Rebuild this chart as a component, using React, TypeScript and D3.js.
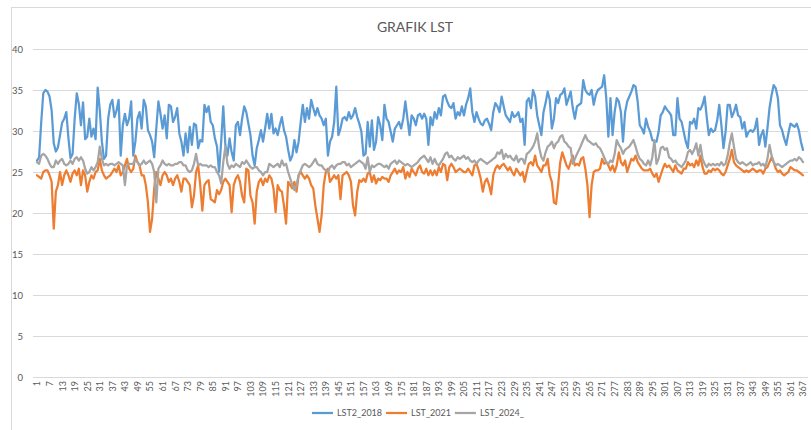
import React, { useEffect, useRef } from 'react';
import * as d3 from 'd3';

// day index 1..367 and the labels shown on the x axis (every 6th day)
const categories = d3.range(1, 368);
const tickLabels = categories.filter((d) => (d - 1) % 6 === 0);
const yTicks = [0, 5, 10, 15, 20, 25, 30, 35, 40];
const seriesNames = ['LST2_2018', 'LST_2021', 'LST_2024_'];
const seriesColors = ['#5B9BD5', '#ED7D31', '#A5A5A5'];

const lst2018 = [
  26.4, 26.8, 31, 34.6, 35, 34.8, 34.2, 32.5, 28.5, 27.5,
  28, 29.5, 31, 31.5, 32.3, 29.2, 26.7, 27.2, 31.5, 34.6,
  33.3, 30.7, 33.5, 29, 29.3, 31.5, 29.3, 30.3, 29, 35.3,
  32.5, 28.7, 26.6, 27, 31.5, 33.2, 33.8, 31.7, 32.5, 33.8,
  27, 30.7, 32.1, 30.7, 31.5, 33.6, 27, 28.7, 31.5, 32.3,
  30.3, 33.8, 33, 30.1, 29.5, 28.7, 26.8, 30.3, 33.6, 32.1,
  30.3, 31.9, 29.1, 33.2, 33, 31.1, 31.7, 32.8, 29.7, 28.7,
  27,
  29.7, 27.4, 30.5, 28.3, 30.9, 30.7, 27.9, 28.9, 28.7, 33.2,
  32.3, 33, 31.1, 30.7, 29.1, 28.1, 25, 28.7, 33, 28.3,
  27, 29.1, 27.4, 26.4, 30.7, 31.1, 29.5, 31.5, 33, 32.3,
  30.9, 29.5, 27, 25.8, 27.9, 28.9, 30.1, 28.7, 30.3, 32.1,
  30.3, 32.1, 29.7, 30.3, 29.5, 30.7, 31.7, 30.1, 29.3, 27.7,
  26.4, 27, 28.9, 27.4, 28.7, 31.1, 33.2, 31.1, 32.8, 31.5,
  33.8, 32.8, 31.9, 32.8, 31.9, 31.5, 30.7, 31.5, 27, 28.7,
  29.3, 31.1, 35.4, 29.5, 30.3, 31.5,
  31.7, 31.3, 32.3, 31.5, 31.9, 32.8, 31.7, 30.9, 29.9, 27,
  27.2, 31.1, 28.1, 31.3, 27.7, 28.7, 31.7, 30.7, 28.9,
  33.2, 31.5, 31.1, 29.9, 28.7, 30.3, 30.7, 31.1, 30.3,
  31.5, 33.6, 31.5, 29.5, 31.9, 31.5, 30.7, 31.9, 32.1,
  31.5, 32.1, 31.5, 28.3, 31.7, 30.7, 32.3, 31.5, 32.8,
  31.9, 34.2, 34.4, 33.6, 33, 32.8, 33.4, 31.5, 32.3, 31.9,
  33, 31.9, 33.2, 34, 35.2, 32.3, 31.1, 32.3, 31.5, 30.9,
  30.7, 31.3, 31.5, 30.9, 30.1, 32.3, 33.4, 33, 32.3,
  34.2, 33, 31.9, 31.5, 31.1, 32.3, 31.7, 31.9, 32.3,
  31.1, 31.5, 28.3, 33.6, 34, 32.8, 35, 34.2, 31.9,
  30.7, 29.5, 32.3, 33.4, 34.8, 33.8, 30.3, 31.5, 34, 33.4,
  34.4, 34.6, 35.2, 33.2, 34, 34.8, 32.8, 31.5, 33, 33.2,
  33.4, 36.2, 35, 34.6, 34.4, 35, 33.2, 34.4, 35, 35.2,
  35.4, 36.8, 34, 29.3, 34, 29.5, 32.3, 34, 33.6,
  32.3, 28.7, 32.3, 33.6, 34.2, 34.8, 35.6, 35.4, 33.6,
  30.7, 30.3, 29.7, 31.5, 30.5, 29.9, 28.9, 28.7,
  28.7, 29.9, 31.9, 32.3, 33, 32.6, 32.3, 31.9, 29.5,
  29.5, 34, 31.5, 31.1, 29.9, 28.7, 27.9, 31.1, 30.9, 31.5,
  30.3, 32.8, 32.6, 33.2, 34.2, 31.7, 29.5, 30.3, 29.9,
  30.1, 31.3, 33.2, 30.7, 27.9, 29.9, 33.2, 33.2, 31.7, 32.3,
  33.2, 31.9, 31.7, 30.3, 31.1, 29.3, 29.9, 30.1, 29.9,
  30.3, 31.5, 28.3, 29.5, 30.1, 28.1, 30.3, 32.8, 34.4, 35.6,
  35.2, 34, 30.7, 30.1, 29.1, 28.3, 29.7, 30.9, 30.7,
  30.5, 30.9, 30.1, 28.7, 27.7,
];

const lst2021 = [
  24.6, 24.4, 24.2, 25, 25.2, 25.2, 24.6, 23.8, 18.1, 22.6,
  23.4, 25, 23.4, 24.6, 25.2, 24.6, 23.8, 24.8, 25.2,
  24.6, 25.4, 23.4, 25.2, 24.6, 22.6, 23.8, 24.6, 24.2, 25,
  25.2, 26.6, 25.2, 24.6, 24.2, 24.4, 24.6, 25, 25.4,
  25, 25.8, 24.6, 25, 25.8, 26.6, 25.4, 25, 25.4, 27,
  26.2, 25.8, 24.6, 24.6, 23.4, 21.3, 17.7, 19.3, 23, 25,
  24.2, 23.4, 24.6, 25, 24.6, 23.8, 24.2, 23.4, 24.2, 24.6,
  23.8, 22.6, 24.2,
  24.2, 23.8, 23.4, 20.7, 22.1, 25, 25.8, 23.4, 20.3, 23.4,
  23.8, 24, 21.7, 21.5, 21.3, 22.8, 22.3, 22.8, 23.8,
  24.2, 23.8, 23.4, 20.1, 23.4, 24.2, 24.6, 23.8, 22.1,
  21.3, 25.4, 25.2, 22.1, 21.3, 18.7, 22.6, 23.8, 24.2, 23.4,
  24.2, 23.8, 24.6, 24.2, 23, 20.1, 23.4, 22.8, 22.6,
  20.9, 18.7, 23.8, 23.4, 23, 23.8, 22.6, 24.6, 25,
  24.6, 24.2, 24.6, 24.2, 23.4, 23, 20.9, 19.3, 17.7, 19.7,
  23.4, 25, 25.4, 23.8, 24.2, 24.6, 24.2, 24.6, 21.7, 24.6,
  24.8, 25, 24.6, 23.8, 20.9, 19.7, 22.6, 24, 23.8, 24.2,
  23.8, 24.8, 25, 23.8, 24.6, 23.6, 24.2, 24, 24.4,
  24.2, 24.2, 23.8, 24.6, 25, 25.4, 24.8, 25.2, 25,
  25.6, 24.2, 25, 24.4, 25.4, 25, 24.6, 25.4, 25.8,
  25, 24.8, 25.4, 24.6, 25.2, 24.6, 25.2, 24.6, 25.6,
  25, 26, 25.8, 24, 25.6, 26, 25.6, 25, 25.2, 25.4,
  25.2, 25, 25, 25.4, 25, 24.6, 25.8, 26, 25.2, 24.2,
  22.6, 23.8, 24.2, 23.4, 22.3, 24.6, 25.4, 25.8, 25.4,
  25.8, 26, 25.6, 25.2, 25.6, 25, 24.6, 25.4, 25,
  24.6, 25, 23.8, 25, 26, 26.2, 25.8, 27, 25.8,
  25.4, 25, 25.8, 25.8, 26.6, 24.6, 23.8, 21.3, 21.1, 23.4,
  26.2, 27.4, 26.6, 25.8, 25.4, 26.2, 27, 25.8, 26,
  25.8, 26.6, 26.8, 25.4, 23.4, 19.5, 23.4, 25, 25.2, 25.2,
  25.4, 26.6, 26, 26.2, 25.8, 25.2, 25.8, 25, 25.8, 27.4,
  26.2, 25.8, 26.4, 25, 25.8, 26.6, 26.4, 27, 26.2, 25.8,
  25.4, 25.2, 25.2, 25.2, 25.4, 24.8, 24.4,
  24.8, 23.8, 24.6, 25.4, 26, 25.6, 25.8, 25.4, 25,
  25.8, 25.2, 25, 24.8, 25.4, 25.4, 26.2, 25.8, 26,
  25.6, 26.4, 25.8, 27, 25.6, 24.8, 24.8, 25.2, 25, 25.4,
  25.2, 25.4, 25.2, 24.8, 24.6, 25, 25.8, 26.6, 27.7, 26.2,
  25.8, 25.6, 25.4, 25.2, 25, 25.2, 25, 25.2, 25.4,
  25.2, 25, 25.2, 25.2, 24.8, 25.4, 25.6, 26.2, 26.8,
  26.2, 25.4, 25, 25.2, 24.8, 24.6, 24.8, 25, 25.6, 25.4,
  25.2, 25.2, 25, 24.8, 24.6,
];

const lst2024 = [
  26.2, 26, 27, 27.2, 27, 26.6, 26, 25.6, 25.6,
  26.4, 26, 26.4, 26.6, 26, 25.8, 26, 26.4, 26, 26.6,
  26.8, 26.4, 26.8, 26.4, 25.4, 24.8, 25, 25.6, 25.2, 25.6,
  26.2, 28.1, 26.6, 25.8, 26, 25.8, 26, 26, 25.8,
  26, 26.2, 26, 25.8, 23.4, 25.8, 26, 26, 26, 26.6,
  26.2, 25.8, 26, 26.4, 26, 26.2, 26.4, 26, 25,
  21.3, 25.4, 25.8, 26.4, 26, 25.8, 26, 25.8, 25.8, 26,
  26, 26.2, 26.2, 25.8,
  25.8, 25.2, 25, 25.2, 26, 27.2, 25.8, 26, 25.8, 25.8,
  25.8, 25.6, 25.8, 25.6, 25.6, 25, 24.6, 23.6, 26.2,
  28.1, 26, 25.4, 25.8, 25.6, 26, 25.8, 25.6, 26.2,
  26, 26.4, 26, 25.6, 25.4, 25.6, 25.6, 25.2, 25, 24.6,
  25, 25, 26, 25.8, 25.6, 25.8, 26, 25.6, 26.4,
  25.8, 26, 25, 24.2, 23.4, 22.8, 23.4, 24.6, 25.2, 25.8,
  26, 25.8, 25.6, 25.8, 26.2, 26.6, 26, 25.8, 25.8,
  25.4, 25.2, 25, 25.6, 25.8, 25.4, 25.8, 26, 26, 26.2,
  26.2, 25.8, 26, 25.6, 25.8, 26, 26.2, 26.4, 26.2, 26,
  25.4, 26.8, 25, 25.8, 25.6, 25.8, 26, 26, 25.8,
  25.6, 25.8, 25.4, 26, 26.2, 26.4, 26, 26.4, 26.2,
  26, 25.8, 26, 25.8, 25.6, 25.8, 26, 26.2, 26.6,
  26.8, 27, 26.6, 26.2, 26.8, 26, 26.6, 26, 25.8, 26.2,
  26.6, 27.2, 27.4, 26.8, 27, 26.6, 26.4, 26.8, 26.6,
  26.8, 27, 26.6, 26.8, 26.4, 26.2, 26.4, 26, 26.4, 26.6,
  26.4, 26.2, 26, 26.2, 26.4, 26.6, 26.8, 27.4, 27.2,
  27.7, 26.6, 27.2, 26.8, 27, 26.6, 26.4, 27, 26.2,
  26.6, 26.6, 26, 27.2, 27.4, 27.7, 28.1, 28.7, 29.7, 27.9,
  26.8, 26.4, 27.4, 28.1, 28.3, 28.7, 27.9, 28.5, 28.7,
  29.3, 29.5, 28.7, 28.5, 28.1, 27.9, 26, 26.6, 27.2, 27.7,
  28.3, 28.9, 29.5, 28.9, 28.7, 28.5, 28.3, 28.5, 28.1,
  27.9, 27.4, 26.8, 26.2, 26, 26.4, 26.2, 27.2, 28.9, 28.3,
  27.9, 27.2, 27.7, 27.9, 28.1, 28.5, 28.9, 28.1, 27.2,
  26.6, 26.4, 26, 25.8, 26.4, 25.8, 26.8, 28.9,
  26, 26.6, 27.9, 28.1, 27.7, 27.9, 26.8, 26.6, 26.2,
  26.4, 26, 25.8, 25.6, 26, 26.4, 27.4, 27.7, 27.2,
  27.7, 28.5, 27, 28.3, 26.6, 26, 25.6, 26, 25.8, 26,
  25.8, 26, 25.8, 26.2, 25.8, 26, 27, 28.5, 29.7, 28.1,
  26.6, 26.2, 26, 26.2, 26, 25.8, 26, 26.2, 25.8,
  26, 26, 26.2, 25.8, 26, 25.6, 26.6, 28.3, 27,
  26.2, 25.8, 26, 25.8, 25.6, 25.8, 26, 26.2, 26.4, 26.4,
  26.6, 26.4, 26.8, 26.6, 26.2,
];

const seriesData = [lst2018, lst2021, lst2024];

const width = 811;
const height = 430;
const font = 'Lato, "Open Sans", sans-serif';
const textColor = '#595959';
const gridColor = '#D9D9D9';

export default function App() {
  const ref = useRef<SVGSVGElement>(null);

  useEffect(() => {
    const svg = d3.select(ref.current);
    svg.selectAll('*').remove();

    // chart frame
    svg.append('rect')
      .attr('x', 11.5)
      .attr('y', 7.5)
      .attr('width', 830)
      .attr('height', 450)
      .attr('fill', '#fff')
      .attr('stroke', gridColor);

    svg.append('text')
      .attr('x', 415)
      .attr('y', 32)
      .attr('text-anchor', 'middle')
      .attr('font-family', font)
      .attr('font-size', 14)
      .attr('fill', textColor)
      .text('GRAFIK LST');

    const x = d3.scaleLinear().domain([1, 367]).range([37, 803]);
    const y = d3.scaleLinear().domain([0, 40]).range([377, 49]);

    // y axis with gridlines
    const yAxis = svg.append('g')
      .attr('transform', 'translate(33,0)')
      .call(d3.axisLeft(y).tickValues(yTicks).tickSize(-775).tickPadding(10));
    yAxis.select('.domain').remove();
    yAxis.selectAll('.tick line').attr('stroke', gridColor);
    yAxis.selectAll('.tick text')
      .attr('fill', textColor)
      .attr('font-family', font)
      .attr('font-size', 9.5);

    // x axis labels, rotated
    const xAxis = svg.append('g')
      .attr('transform', 'translate(0,377)')
      .call(d3.axisBottom(x).tickValues(tickLabels).tickSize(0).tickFormat(d3.format('d')));
    xAxis.select('.domain').remove();
    xAxis.selectAll('.tick text')
      .attr('fill', textColor)
      .attr('font-family', font)
      .attr('font-size', 9)
      .attr('x', -4)
      .attr('y', 0)
      .attr('dy', '0.32em')
      .attr('transform', 'rotate(-90)')
      .style('text-anchor', 'end');

    const line = d3.line<number>()
      .x((d, i) => x(categories[i]))
      .y((d) => y(d));

    seriesData.forEach((values, k) => {
      svg.append('path')
        .datum(values)
        .attr('fill', 'none')
        .attr('stroke', seriesColors[k])
        .attr('stroke-width', 2.25)
        .attr('stroke-linejoin', 'round')
        .attr('stroke-linecap', 'round')
        .attr('d', line);
    });

    // legend
    let lx = 312;
    const ly = 413;
    seriesNames.forEach((name, k) => {
      svg.append('line')
        .attr('x1', lx)
        .attr('x2', lx + 21)
        .attr('y1', ly)
        .attr('y2', ly)
        .attr('stroke', seriesColors[k])
        .attr('stroke-width', 2.25);
      const t = svg.append('text')
        .attr('x', lx + 25)
        .attr('y', ly)
        .attr('dy', '0.35em')
        .attr('font-family', font)
        .attr('font-size', 9)
        .attr('fill', textColor)
        .text(name);
      const w = (t.node() as SVGTextElement).getComputedTextLength();
      lx += 25 + w + 4;
    });
  }, []);

  return (
    <svg
      ref={ref}
      width={width}
      height={height}
      style={{ position: 'absolute', left: 0, top: 0, background: '#fff' }}
    />
  );
}
